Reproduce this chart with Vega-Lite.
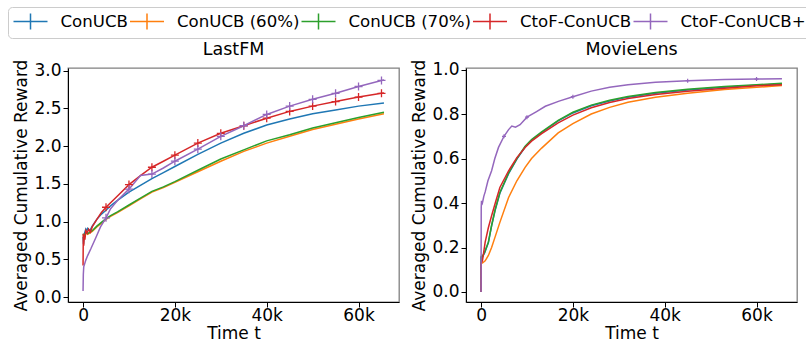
{
  "$schema": "https://vega.github.io/schema/vega-lite/v6.json",
  "padding": {"left": 7, "top": 6, "right": 0, "bottom": 0},
  "spacing": 10,
  "config": {
    "font": "DejaVu Sans",
    "view": {"stroke": "#808080", "strokeWidth": 1.3},
    "axis": {
      "grid": false,
      "labelFont": "DejaVu Sans",
      "titleFont": "DejaVu Sans",
      "labelFontSize": 17,
      "titleFontSize": 17,
      "titleFontWeight": "normal",
      "labelColor": "#000000",
      "titleColor": "#000000",
      "tickColor": "#000000",
      "domainColor": "#000000",
      "tickSize": 5,
      "labelPadding": 2,
      "titlePadding": 3
    },
    "axisX": {"labelPadding": 0.5, "titlePadding": 1.5},
    "title": {"font": "DejaVu Sans", "fontSize": 17.5, "fontWeight": "normal", "color": "#000000", "offset": 1},
    "legend": {"labelFont": "DejaVu Sans"}
  },
  "datasets": {
    "d": [
      {"p": "LastFM", "s": "ConUCB", "t": 0, "v": 0.80},
      {"p": "LastFM", "s": "ConUCB", "t": 100, "v": 0.70},
      {"p": "LastFM", "s": "ConUCB", "t": 300, "v": 0.84},
      {"p": "LastFM", "s": "ConUCB", "t": 600, "v": 0.90},
      {"p": "LastFM", "s": "ConUCB", "t": 800, "v": 0.88},
      {"p": "LastFM", "s": "ConUCB", "t": 1000, "v": 0.91},
      {"p": "LastFM", "s": "ConUCB", "t": 1500, "v": 0.88},
      {"p": "LastFM", "s": "ConUCB", "t": 2000, "v": 0.94},
      {"p": "LastFM", "s": "ConUCB", "t": 3000, "v": 1.03},
      {"p": "LastFM", "s": "ConUCB", "t": 4000, "v": 1.10},
      {"p": "LastFM", "s": "ConUCB", "t": 5000, "v": 1.15},
      {"p": "LastFM", "s": "ConUCB", "t": 6000, "v": 1.21},
      {"p": "LastFM", "s": "ConUCB", "t": 7500, "v": 1.28},
      {"p": "LastFM", "s": "ConUCB", "t": 10000, "v": 1.39},
      {"p": "LastFM", "s": "ConUCB", "t": 12500, "v": 1.48},
      {"p": "LastFM", "s": "ConUCB", "t": 15000, "v": 1.57},
      {"p": "LastFM", "s": "ConUCB", "t": 17500, "v": 1.65},
      {"p": "LastFM", "s": "ConUCB", "t": 20000, "v": 1.73},
      {"p": "LastFM", "s": "ConUCB", "t": 25000, "v": 1.89},
      {"p": "LastFM", "s": "ConUCB", "t": 30000, "v": 2.04},
      {"p": "LastFM", "s": "ConUCB", "t": 35000, "v": 2.17},
      {"p": "LastFM", "s": "ConUCB", "t": 40000, "v": 2.28},
      {"p": "LastFM", "s": "ConUCB", "t": 45000, "v": 2.36},
      {"p": "LastFM", "s": "ConUCB", "t": 50000, "v": 2.43},
      {"p": "LastFM", "s": "ConUCB", "t": 55000, "v": 2.48},
      {"p": "LastFM", "s": "ConUCB", "t": 60000, "v": 2.53},
      {"p": "LastFM", "s": "ConUCB", "t": 65536, "v": 2.57},

      {"p": "LastFM", "s": "ConUCB (60%)", "t": 0, "v": 0.82},
      {"p": "LastFM", "s": "ConUCB (60%)", "t": 300, "v": 0.79},
      {"p": "LastFM", "s": "ConUCB (60%)", "t": 600, "v": 0.85},
      {"p": "LastFM", "s": "ConUCB (60%)", "t": 1000, "v": 0.83},
      {"p": "LastFM", "s": "ConUCB (60%)", "t": 1500, "v": 0.85},
      {"p": "LastFM", "s": "ConUCB (60%)", "t": 2000, "v": 0.87},
      {"p": "LastFM", "s": "ConUCB (60%)", "t": 3000, "v": 0.93},
      {"p": "LastFM", "s": "ConUCB (60%)", "t": 4000, "v": 0.98},
      {"p": "LastFM", "s": "ConUCB (60%)", "t": 5000, "v": 1.03},
      {"p": "LastFM", "s": "ConUCB (60%)", "t": 6000, "v": 1.07},
      {"p": "LastFM", "s": "ConUCB (60%)", "t": 7500, "v": 1.12},
      {"p": "LastFM", "s": "ConUCB (60%)", "t": 10000, "v": 1.21},
      {"p": "LastFM", "s": "ConUCB (60%)", "t": 12500, "v": 1.30},
      {"p": "LastFM", "s": "ConUCB (60%)", "t": 15000, "v": 1.39},
      {"p": "LastFM", "s": "ConUCB (60%)", "t": 17500, "v": 1.45},
      {"p": "LastFM", "s": "ConUCB (60%)", "t": 20000, "v": 1.52},
      {"p": "LastFM", "s": "ConUCB (60%)", "t": 25000, "v": 1.66},
      {"p": "LastFM", "s": "ConUCB (60%)", "t": 30000, "v": 1.80},
      {"p": "LastFM", "s": "ConUCB (60%)", "t": 35000, "v": 1.93},
      {"p": "LastFM", "s": "ConUCB (60%)", "t": 40000, "v": 2.04},
      {"p": "LastFM", "s": "ConUCB (60%)", "t": 45000, "v": 2.13},
      {"p": "LastFM", "s": "ConUCB (60%)", "t": 50000, "v": 2.22},
      {"p": "LastFM", "s": "ConUCB (60%)", "t": 55000, "v": 2.29},
      {"p": "LastFM", "s": "ConUCB (60%)", "t": 60000, "v": 2.36},
      {"p": "LastFM", "s": "ConUCB (60%)", "t": 65536, "v": 2.43},

      {"p": "LastFM", "s": "ConUCB (70%)", "t": 0, "v": 0.84},
      {"p": "LastFM", "s": "ConUCB (70%)", "t": 300, "v": 0.80},
      {"p": "LastFM", "s": "ConUCB (70%)", "t": 600, "v": 0.86},
      {"p": "LastFM", "s": "ConUCB (70%)", "t": 1000, "v": 0.84},
      {"p": "LastFM", "s": "ConUCB (70%)", "t": 1500, "v": 0.86},
      {"p": "LastFM", "s": "ConUCB (70%)", "t": 2000, "v": 0.88},
      {"p": "LastFM", "s": "ConUCB (70%)", "t": 3000, "v": 0.94},
      {"p": "LastFM", "s": "ConUCB (70%)", "t": 4000, "v": 0.99},
      {"p": "LastFM", "s": "ConUCB (70%)", "t": 5000, "v": 1.04},
      {"p": "LastFM", "s": "ConUCB (70%)", "t": 6000, "v": 1.08},
      {"p": "LastFM", "s": "ConUCB (70%)", "t": 7500, "v": 1.13},
      {"p": "LastFM", "s": "ConUCB (70%)", "t": 10000, "v": 1.22},
      {"p": "LastFM", "s": "ConUCB (70%)", "t": 12500, "v": 1.31},
      {"p": "LastFM", "s": "ConUCB (70%)", "t": 15000, "v": 1.40},
      {"p": "LastFM", "s": "ConUCB (70%)", "t": 17500, "v": 1.46},
      {"p": "LastFM", "s": "ConUCB (70%)", "t": 20000, "v": 1.53},
      {"p": "LastFM", "s": "ConUCB (70%)", "t": 25000, "v": 1.68},
      {"p": "LastFM", "s": "ConUCB (70%)", "t": 30000, "v": 1.83},
      {"p": "LastFM", "s": "ConUCB (70%)", "t": 35000, "v": 1.95},
      {"p": "LastFM", "s": "ConUCB (70%)", "t": 40000, "v": 2.07},
      {"p": "LastFM", "s": "ConUCB (70%)", "t": 45000, "v": 2.15},
      {"p": "LastFM", "s": "ConUCB (70%)", "t": 50000, "v": 2.24},
      {"p": "LastFM", "s": "ConUCB (70%)", "t": 55000, "v": 2.31},
      {"p": "LastFM", "s": "ConUCB (70%)", "t": 60000, "v": 2.38},
      {"p": "LastFM", "s": "ConUCB (70%)", "t": 65536, "v": 2.45},

      {"p": "LastFM", "s": "CtoF-ConUCB", "t": 0, "v": 0.42},
      {"p": "LastFM", "s": "CtoF-ConUCB", "t": 60, "v": 0.84},
      {"p": "LastFM", "s": "CtoF-ConUCB", "t": 150, "v": 0.68},
      {"p": "LastFM", "s": "CtoF-ConUCB", "t": 250, "v": 0.82},
      {"p": "LastFM", "s": "CtoF-ConUCB", "t": 400, "v": 0.76},
      {"p": "LastFM", "s": "CtoF-ConUCB", "t": 600, "v": 0.88},
      {"p": "LastFM", "s": "CtoF-ConUCB", "t": 900, "v": 0.85},
      {"p": "LastFM", "s": "CtoF-ConUCB", "t": 1200, "v": 0.90},
      {"p": "LastFM", "s": "CtoF-ConUCB", "t": 1600, "v": 0.86},
      {"p": "LastFM", "s": "CtoF-ConUCB", "t": 2000, "v": 0.93},
      {"p": "LastFM", "s": "CtoF-ConUCB", "t": 3000, "v": 1.03},
      {"p": "LastFM", "s": "CtoF-ConUCB", "t": 4000, "v": 1.12},
      {"p": "LastFM", "s": "CtoF-ConUCB", "t": 5000, "v": 1.19},
      {"p": "LastFM", "s": "CtoF-ConUCB", "t": 6000, "v": 1.25},
      {"p": "LastFM", "s": "CtoF-ConUCB", "t": 7500, "v": 1.34},
      {"p": "LastFM", "s": "CtoF-ConUCB", "t": 10000, "v": 1.49},
      {"p": "LastFM", "s": "CtoF-ConUCB", "t": 12500, "v": 1.61},
      {"p": "LastFM", "s": "CtoF-ConUCB", "t": 15000, "v": 1.72},
      {"p": "LastFM", "s": "CtoF-ConUCB", "t": 17500, "v": 1.80},
      {"p": "LastFM", "s": "CtoF-ConUCB", "t": 20000, "v": 1.88},
      {"p": "LastFM", "s": "CtoF-ConUCB", "t": 25000, "v": 2.04},
      {"p": "LastFM", "s": "CtoF-ConUCB", "t": 30000, "v": 2.17},
      {"p": "LastFM", "s": "CtoF-ConUCB", "t": 35000, "v": 2.27},
      {"p": "LastFM", "s": "CtoF-ConUCB", "t": 40000, "v": 2.37},
      {"p": "LastFM", "s": "CtoF-ConUCB", "t": 45000, "v": 2.46},
      {"p": "LastFM", "s": "CtoF-ConUCB", "t": 50000, "v": 2.53},
      {"p": "LastFM", "s": "CtoF-ConUCB", "t": 55000, "v": 2.59},
      {"p": "LastFM", "s": "CtoF-ConUCB", "t": 60000, "v": 2.65},
      {"p": "LastFM", "s": "CtoF-ConUCB", "t": 65000, "v": 2.70},
      {"p": "LastFM", "s": "CtoF-ConUCB", "t": 65536, "v": 2.705},

      {"p": "LastFM", "s": "CtoF-ConUCB+", "t": 0, "v": 0.08},
      {"p": "LastFM", "s": "CtoF-ConUCB+", "t": 60, "v": 0.30},
      {"p": "LastFM", "s": "CtoF-ConUCB+", "t": 150, "v": 0.40},
      {"p": "LastFM", "s": "CtoF-ConUCB+", "t": 300, "v": 0.43},
      {"p": "LastFM", "s": "CtoF-ConUCB+", "t": 600, "v": 0.49},
      {"p": "LastFM", "s": "CtoF-ConUCB+", "t": 1000, "v": 0.55},
      {"p": "LastFM", "s": "CtoF-ConUCB+", "t": 1700, "v": 0.64},
      {"p": "LastFM", "s": "CtoF-ConUCB+", "t": 2800, "v": 0.79},
      {"p": "LastFM", "s": "CtoF-ConUCB+", "t": 3800, "v": 0.93},
      {"p": "LastFM", "s": "CtoF-ConUCB+", "t": 5000, "v": 1.05},
      {"p": "LastFM", "s": "CtoF-ConUCB+", "t": 6000, "v": 1.17},
      {"p": "LastFM", "s": "CtoF-ConUCB+", "t": 7500, "v": 1.28},
      {"p": "LastFM", "s": "CtoF-ConUCB+", "t": 10000, "v": 1.43},
      {"p": "LastFM", "s": "CtoF-ConUCB+", "t": 12500, "v": 1.61},
      {"p": "LastFM", "s": "CtoF-ConUCB+", "t": 15000, "v": 1.63},
      {"p": "LastFM", "s": "CtoF-ConUCB+", "t": 17500, "v": 1.71},
      {"p": "LastFM", "s": "CtoF-ConUCB+", "t": 20000, "v": 1.80},
      {"p": "LastFM", "s": "CtoF-ConUCB+", "t": 25000, "v": 1.96},
      {"p": "LastFM", "s": "CtoF-ConUCB+", "t": 30000, "v": 2.13},
      {"p": "LastFM", "s": "CtoF-ConUCB+", "t": 35000, "v": 2.27},
      {"p": "LastFM", "s": "CtoF-ConUCB+", "t": 40000, "v": 2.42},
      {"p": "LastFM", "s": "CtoF-ConUCB+", "t": 45000, "v": 2.53},
      {"p": "LastFM", "s": "CtoF-ConUCB+", "t": 50000, "v": 2.62},
      {"p": "LastFM", "s": "CtoF-ConUCB+", "t": 55000, "v": 2.70},
      {"p": "LastFM", "s": "CtoF-ConUCB+", "t": 60000, "v": 2.79},
      {"p": "LastFM", "s": "CtoF-ConUCB+", "t": 65000, "v": 2.87},
      {"p": "LastFM", "s": "CtoF-ConUCB+", "t": 65536, "v": 2.875},

      {"p": "MovieLens", "s": "ConUCB", "t": 0, "v": 0.0},
      {"p": "MovieLens", "s": "ConUCB", "t": 30, "v": 0.155},
      {"p": "MovieLens", "s": "ConUCB", "t": 300, "v": 0.157},
      {"p": "MovieLens", "s": "ConUCB", "t": 800, "v": 0.177},
      {"p": "MovieLens", "s": "ConUCB", "t": 1600, "v": 0.222},
      {"p": "MovieLens", "s": "ConUCB", "t": 2300, "v": 0.297},
      {"p": "MovieLens", "s": "ConUCB", "t": 3100, "v": 0.37},
      {"p": "MovieLens", "s": "ConUCB", "t": 4100, "v": 0.444},
      {"p": "MovieLens", "s": "ConUCB", "t": 6000, "v": 0.532},
      {"p": "MovieLens", "s": "ConUCB", "t": 7800, "v": 0.597},
      {"p": "MovieLens", "s": "ConUCB", "t": 9600, "v": 0.652},
      {"p": "MovieLens", "s": "ConUCB", "t": 11000, "v": 0.682},
      {"p": "MovieLens", "s": "ConUCB", "t": 13200, "v": 0.717},
      {"p": "MovieLens", "s": "ConUCB", "t": 16800, "v": 0.769},
      {"p": "MovieLens", "s": "ConUCB", "t": 20000, "v": 0.805},
      {"p": "MovieLens", "s": "ConUCB", "t": 24000, "v": 0.837},
      {"p": "MovieLens", "s": "ConUCB", "t": 28000, "v": 0.859},
      {"p": "MovieLens", "s": "ConUCB", "t": 32000, "v": 0.876},
      {"p": "MovieLens", "s": "ConUCB", "t": 38000, "v": 0.894},
      {"p": "MovieLens", "s": "ConUCB", "t": 45000, "v": 0.908},
      {"p": "MovieLens", "s": "ConUCB", "t": 53000, "v": 0.921},
      {"p": "MovieLens", "s": "ConUCB", "t": 60000, "v": 0.929},
      {"p": "MovieLens", "s": "ConUCB", "t": 65536, "v": 0.935},

      {"p": "MovieLens", "s": "ConUCB (60%)", "t": 0, "v": 0.0},
      {"p": "MovieLens", "s": "ConUCB (60%)", "t": 30, "v": 0.13},
      {"p": "MovieLens", "s": "ConUCB (60%)", "t": 300, "v": 0.13},
      {"p": "MovieLens", "s": "ConUCB (60%)", "t": 900, "v": 0.14},
      {"p": "MovieLens", "s": "ConUCB (60%)", "t": 1600, "v": 0.164},
      {"p": "MovieLens", "s": "ConUCB (60%)", "t": 2300, "v": 0.20},
      {"p": "MovieLens", "s": "ConUCB (60%)", "t": 3100, "v": 0.25},
      {"p": "MovieLens", "s": "ConUCB (60%)", "t": 4100, "v": 0.313},
      {"p": "MovieLens", "s": "ConUCB (60%)", "t": 6000, "v": 0.425},
      {"p": "MovieLens", "s": "ConUCB (60%)", "t": 7800, "v": 0.50},
      {"p": "MovieLens", "s": "ConUCB (60%)", "t": 9600, "v": 0.56},
      {"p": "MovieLens", "s": "ConUCB (60%)", "t": 11000, "v": 0.60},
      {"p": "MovieLens", "s": "ConUCB (60%)", "t": 13200, "v": 0.647},
      {"p": "MovieLens", "s": "ConUCB (60%)", "t": 16800, "v": 0.715},
      {"p": "MovieLens", "s": "ConUCB (60%)", "t": 20000, "v": 0.757},
      {"p": "MovieLens", "s": "ConUCB (60%)", "t": 24000, "v": 0.80},
      {"p": "MovieLens", "s": "ConUCB (60%)", "t": 28000, "v": 0.83},
      {"p": "MovieLens", "s": "ConUCB (60%)", "t": 32000, "v": 0.853},
      {"p": "MovieLens", "s": "ConUCB (60%)", "t": 38000, "v": 0.875},
      {"p": "MovieLens", "s": "ConUCB (60%)", "t": 45000, "v": 0.894},
      {"p": "MovieLens", "s": "ConUCB (60%)", "t": 53000, "v": 0.91},
      {"p": "MovieLens", "s": "ConUCB (60%)", "t": 60000, "v": 0.92},
      {"p": "MovieLens", "s": "ConUCB (60%)", "t": 65536, "v": 0.928},

      {"p": "MovieLens", "s": "ConUCB (70%)", "t": 0, "v": 0.0},
      {"p": "MovieLens", "s": "ConUCB (70%)", "t": 30, "v": 0.16},
      {"p": "MovieLens", "s": "ConUCB (70%)", "t": 300, "v": 0.16},
      {"p": "MovieLens", "s": "ConUCB (70%)", "t": 800, "v": 0.18},
      {"p": "MovieLens", "s": "ConUCB (70%)", "t": 1600, "v": 0.224},
      {"p": "MovieLens", "s": "ConUCB (70%)", "t": 2300, "v": 0.30},
      {"p": "MovieLens", "s": "ConUCB (70%)", "t": 3100, "v": 0.373},
      {"p": "MovieLens", "s": "ConUCB (70%)", "t": 4100, "v": 0.447},
      {"p": "MovieLens", "s": "ConUCB (70%)", "t": 6000, "v": 0.535},
      {"p": "MovieLens", "s": "ConUCB (70%)", "t": 7800, "v": 0.60},
      {"p": "MovieLens", "s": "ConUCB (70%)", "t": 9600, "v": 0.655},
      {"p": "MovieLens", "s": "ConUCB (70%)", "t": 11000, "v": 0.685},
      {"p": "MovieLens", "s": "ConUCB (70%)", "t": 13200, "v": 0.72},
      {"p": "MovieLens", "s": "ConUCB (70%)", "t": 16800, "v": 0.772},
      {"p": "MovieLens", "s": "ConUCB (70%)", "t": 20000, "v": 0.808},
      {"p": "MovieLens", "s": "ConUCB (70%)", "t": 24000, "v": 0.84},
      {"p": "MovieLens", "s": "ConUCB (70%)", "t": 28000, "v": 0.862},
      {"p": "MovieLens", "s": "ConUCB (70%)", "t": 32000, "v": 0.879},
      {"p": "MovieLens", "s": "ConUCB (70%)", "t": 38000, "v": 0.897},
      {"p": "MovieLens", "s": "ConUCB (70%)", "t": 45000, "v": 0.911},
      {"p": "MovieLens", "s": "ConUCB (70%)", "t": 53000, "v": 0.924},
      {"p": "MovieLens", "s": "ConUCB (70%)", "t": 60000, "v": 0.932},
      {"p": "MovieLens", "s": "ConUCB (70%)", "t": 65536, "v": 0.938},

      {"p": "MovieLens", "s": "CtoF-ConUCB", "t": 0, "v": 0.0},
      {"p": "MovieLens", "s": "CtoF-ConUCB", "t": 30, "v": 0.13},
      {"p": "MovieLens", "s": "CtoF-ConUCB", "t": 300, "v": 0.14},
      {"p": "MovieLens", "s": "CtoF-ConUCB", "t": 900, "v": 0.224},
      {"p": "MovieLens", "s": "CtoF-ConUCB", "t": 1600, "v": 0.29},
      {"p": "MovieLens", "s": "CtoF-ConUCB", "t": 2300, "v": 0.343},
      {"p": "MovieLens", "s": "CtoF-ConUCB", "t": 3100, "v": 0.40},
      {"p": "MovieLens", "s": "CtoF-ConUCB", "t": 4100, "v": 0.47},
      {"p": "MovieLens", "s": "CtoF-ConUCB", "t": 6000, "v": 0.545},
      {"p": "MovieLens", "s": "CtoF-ConUCB", "t": 7800, "v": 0.604},
      {"p": "MovieLens", "s": "CtoF-ConUCB", "t": 9600, "v": 0.65},
      {"p": "MovieLens", "s": "CtoF-ConUCB", "t": 11000, "v": 0.678},
      {"p": "MovieLens", "s": "CtoF-ConUCB", "t": 13200, "v": 0.712},
      {"p": "MovieLens", "s": "CtoF-ConUCB", "t": 16800, "v": 0.76},
      {"p": "MovieLens", "s": "CtoF-ConUCB", "t": 20000, "v": 0.795},
      {"p": "MovieLens", "s": "CtoF-ConUCB", "t": 24000, "v": 0.828},
      {"p": "MovieLens", "s": "CtoF-ConUCB", "t": 28000, "v": 0.852},
      {"p": "MovieLens", "s": "CtoF-ConUCB", "t": 32000, "v": 0.87},
      {"p": "MovieLens", "s": "CtoF-ConUCB", "t": 38000, "v": 0.888},
      {"p": "MovieLens", "s": "CtoF-ConUCB", "t": 45000, "v": 0.902},
      {"p": "MovieLens", "s": "CtoF-ConUCB", "t": 53000, "v": 0.916},
      {"p": "MovieLens", "s": "CtoF-ConUCB", "t": 60000, "v": 0.927},
      {"p": "MovieLens", "s": "CtoF-ConUCB", "t": 65536, "v": 0.932},

      {"p": "MovieLens", "s": "CtoF-ConUCB+", "t": 0, "v": 0.0},
      {"p": "MovieLens", "s": "CtoF-ConUCB+", "t": 20, "v": 0.20},
      {"p": "MovieLens", "s": "CtoF-ConUCB+", "t": 40, "v": 0.38},
      {"p": "MovieLens", "s": "CtoF-ConUCB+", "t": 100, "v": 0.41},
      {"p": "MovieLens", "s": "CtoF-ConUCB+", "t": 300, "v": 0.40},
      {"p": "MovieLens", "s": "CtoF-ConUCB+", "t": 600, "v": 0.43},
      {"p": "MovieLens", "s": "CtoF-ConUCB+", "t": 900, "v": 0.45},
      {"p": "MovieLens", "s": "CtoF-ConUCB+", "t": 1500, "v": 0.50},
      {"p": "MovieLens", "s": "CtoF-ConUCB+", "t": 2300, "v": 0.545},
      {"p": "MovieLens", "s": "CtoF-ConUCB+", "t": 3000, "v": 0.60},
      {"p": "MovieLens", "s": "CtoF-ConUCB+", "t": 3800, "v": 0.65},
      {"p": "MovieLens", "s": "CtoF-ConUCB+", "t": 5000, "v": 0.70},
      {"p": "MovieLens", "s": "CtoF-ConUCB+", "t": 6000, "v": 0.73},
      {"p": "MovieLens", "s": "CtoF-ConUCB+", "t": 6700, "v": 0.746},
      {"p": "MovieLens", "s": "CtoF-ConUCB+", "t": 7500, "v": 0.741},
      {"p": "MovieLens", "s": "CtoF-ConUCB+", "t": 8500, "v": 0.752},
      {"p": "MovieLens", "s": "CtoF-ConUCB+", "t": 10000, "v": 0.786},
      {"p": "MovieLens", "s": "CtoF-ConUCB+", "t": 12000, "v": 0.81},
      {"p": "MovieLens", "s": "CtoF-ConUCB+", "t": 14000, "v": 0.835},
      {"p": "MovieLens", "s": "CtoF-ConUCB+", "t": 17000, "v": 0.858},
      {"p": "MovieLens", "s": "CtoF-ConUCB+", "t": 20000, "v": 0.878},
      {"p": "MovieLens", "s": "CtoF-ConUCB+", "t": 24000, "v": 0.903},
      {"p": "MovieLens", "s": "CtoF-ConUCB+", "t": 28000, "v": 0.92},
      {"p": "MovieLens", "s": "CtoF-ConUCB+", "t": 32000, "v": 0.932},
      {"p": "MovieLens", "s": "CtoF-ConUCB+", "t": 38000, "v": 0.943},
      {"p": "MovieLens", "s": "CtoF-ConUCB+", "t": 45000, "v": 0.95},
      {"p": "MovieLens", "s": "CtoF-ConUCB+", "t": 53000, "v": 0.955},
      {"p": "MovieLens", "s": "CtoF-ConUCB+", "t": 60000, "v": 0.957},
      {"p": "MovieLens", "s": "CtoF-ConUCB+", "t": 65536, "v": 0.959}
    ]
  },
  "hconcat": [
    {
      "width": 331,
      "height": 234,
      "title": "LastFM",
      "data": {"name": "d"},
      "transform": [{"filter": "datum.p == 'LastFM'"}],
      "encoding": {
        "x": {"field": "t", "type": "quantitative", "scale": {"domain": [-3277, 68813], "nice": false, "zero": false}, "axis": {"values": [0, 20000, 40000, 60000], "labelExpr": "datum.value == 0 ? '0' : (datum.value / 1000) + 'k'", "title": "Time t"}},
        "y": {"field": "v", "type": "quantitative", "scale": {"domain": [-0.065, 3.035], "nice": false, "zero": false}, "axis": {"values": [0, 0.5, 1, 1.5, 2, 2.5, 3], "format": ".1f", "title": "Averaged Cumulative Reward"}},
        "color": {
          "field": "s", "type": "nominal",
          "scale": {"domain": ["ConUCB", "ConUCB (60%)", "ConUCB (70%)", "CtoF-ConUCB", "CtoF-ConUCB+"], "range": ["#1f77b4", "#ff7f0e", "#2ca02c", "#d62728", "#9467bd"]},
          "legend": {
            "title": null, "orient": "none", "legendX": -60, "legendY": -61,
            "direction": "horizontal", "columns": 5,
            "symbolType": "M-2.125,0H2.125M0,-1V1", "symbolSize": 256, "symbolStrokeWidth": 1.5, "symbolFillColor": "transparent", "symbolOffset": 8,
            "labelFontSize": 16.6, "labelOffset": 21, "columnPadding": -1.5, "padding": 5.5, "labelLimit": 400,
            "strokeColor": "#cccccc", "fillColor": "#ffffff", "cornerRadius": 4
          }
        }
      },
      "layer": [
        {"mark": {"type": "line", "strokeWidth": 1.5}},
        {
          "transform": [{"filter": "datum.t % 5000 == 0 && datum.t > 0 && (datum.s == 'CtoF-ConUCB' || datum.s == 'CtoF-ConUCB+')"}],
          "mark": {"type": "point", "shape": "M-1,0H1M0,-1V1", "size": 64, "filled": false, "strokeWidth": 1.3, "opacity": 1}
        }
      ]
    },
    {
      "width": 331,
      "height": 234,
      "title": "MovieLens",
      "data": {"name": "d"},
      "transform": [{"filter": "datum.p == 'MovieLens'"}],
      "encoding": {
        "x": {"field": "t", "type": "quantitative", "scale": {"domain": [-3277, 68813], "nice": false, "zero": false}, "axis": {"values": [0, 20000, 40000, 60000], "labelExpr": "datum.value == 0 ? '0' : (datum.value / 1000) + 'k'", "title": "Time t"}},
        "y": {"field": "v", "type": "quantitative", "scale": {"domain": [-0.045, 1.007], "nice": false, "zero": false}, "axis": {"values": [0, 0.2, 0.4, 0.6, 0.8, 1.0], "format": ".1f", "title": "Averaged Cumulative Reward"}},
        "color": {"field": "s", "type": "nominal"}
      },
      "layer": [
        {"mark": {"type": "line", "strokeWidth": 1.5}},
        {
          "transform": [{"filter": "datum.t % 5000 == 0 && datum.t > 0 && datum.s == 'CtoF-ConUCB+'"}],
          "mark": {"type": "point", "shape": "M-1,0H1M0,-1V1", "size": 16, "filled": false, "strokeWidth": 1.2, "opacity": 1}
        }
      ]
    }
  ]
}
